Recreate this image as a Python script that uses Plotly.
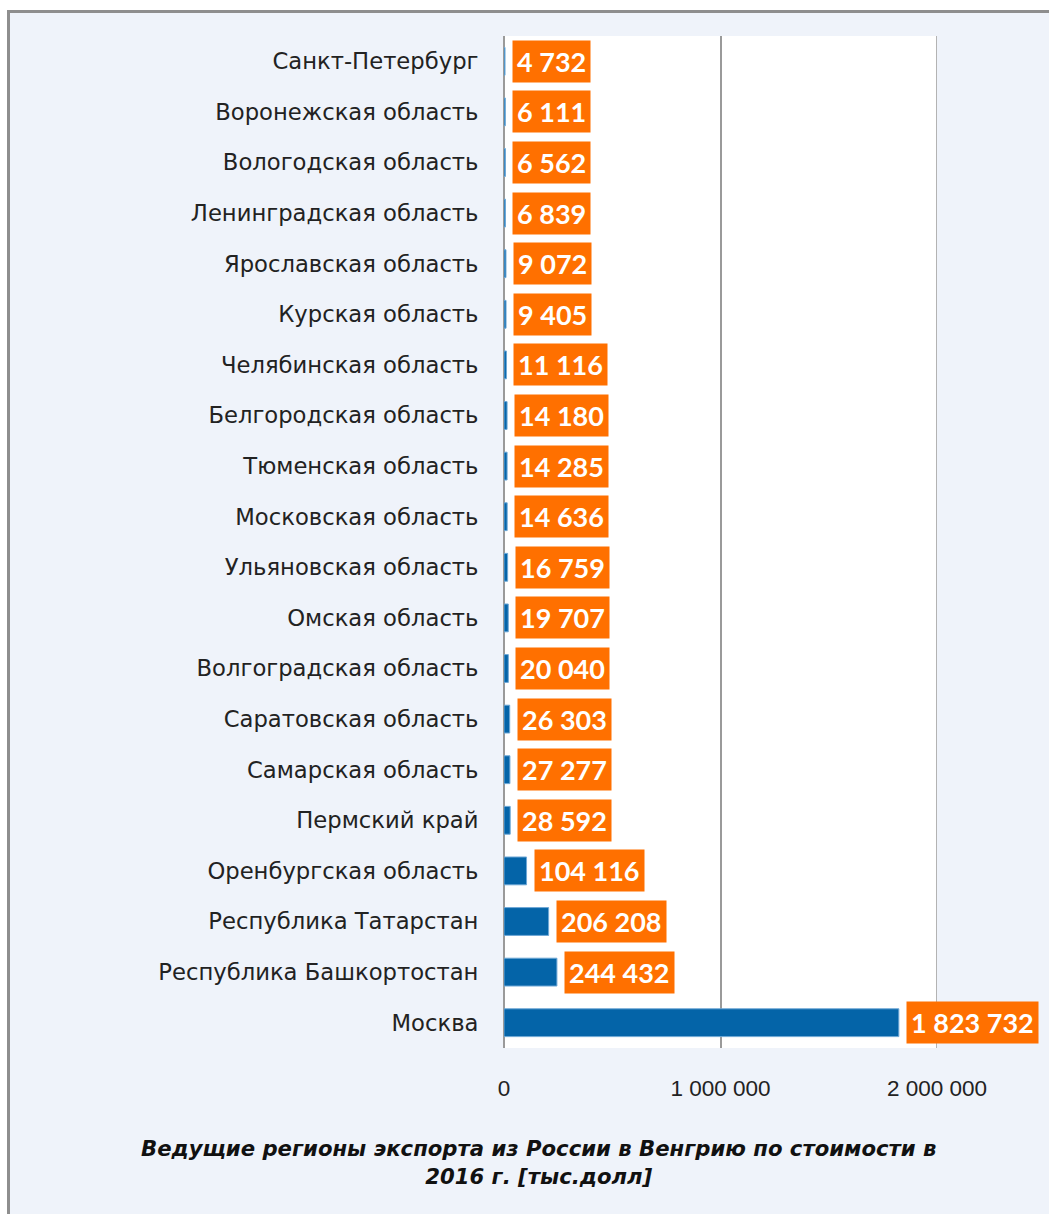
import plotly.graph_objects as go

regions = [
    "Санкт-Петербург", "Воронежская область", "Вологодская область",
    "Ленинградская область", "Ярославская область", "Курская область",
    "Челябинская область", "Белгородская область", "Тюменская область",
    "Московская область", "Ульяновская область", "Омская область",
    "Волгоградская область", "Саратовская область", "Самарская область",
    "Пермский край", "Оренбургская область", "Республика Татарстан",
    "Республика Башкортостан", "Москва",
]
values = [4732, 6111, 6562, 6839, 9072, 9405, 11116, 14180, 14285, 14636,
          16759, 19707, 20040, 26303, 27277, 28592, 104116, 206208, 244432,
          1823732]
tick_vals = [0, 1000000, 2000000]
title_text = "Ведущие регионы экспорта из России в Венгрию по стоимости в<br>2016 г. [тыс.долл]"

W, H = 1049, 1214
ML, MR, MT, MB = 504, 112, 36, 166
PW, PH = W - ML - MR, H - MT - MB

def px_x(p):
    return (p - ML) / PW

def px_y(p):
    return 1 - (p - MT) / PH

def fmt(v):
    return f"{v:,}".replace(",", " ")

BLUE = "#0464A8"
ORANGE = "#FF7000"
BG = "#EFF3FA"
GRID = "#9A9A9A"

fig = go.Figure()
fig.add_trace(go.Bar(
    y=regions, x=values, orientation="h",
    marker=dict(color=BLUE, line=dict(color="#6FA8D6", width=1)),
    hoverinfo="x+y",
))

# gridline at the right edge of the axis range
fig.add_shape(type="line", xref="x", yref="paper",
              x0=tick_vals[-1], x1=tick_vals[-1], y0=0, y1=1,
              line=dict(color=GRID, width=1.5), layer="below")

for r, v in zip(regions, values):
    fig.add_annotation(
        x=v, y=r, xref="x", yref="y", text="<b>" + fmt(v) + "</b>",
        showarrow=False, xanchor="left", xshift=7,
        bgcolor=ORANGE, borderpad=4,
        font=dict(family="Lato, Open Sans, sans-serif", size=27, color="white"),
    )

fig.add_annotation(
    x=px_x(538), y=px_y(1162), xref="paper", yref="paper",
    text="<b><i>" + title_text + "</i></b>", showarrow=False,
    xanchor="center", yanchor="middle", align="center",
    font=dict(family="DejaVu Sans, sans-serif", size=21.2, color="#111111"),
)

# outer frame: white margins at top/left and gray border
fig.add_shape(type="rect", xref="paper", yref="paper",
              x0=px_x(-5), x1=px_x(W + 5), y0=px_y(10), y1=px_y(-5),
              fillcolor="white", line=dict(width=0), layer="below")
fig.add_shape(type="rect", xref="paper", yref="paper",
              x0=px_x(-5), x1=px_x(7), y0=px_y(H + 5), y1=px_y(-5),
              fillcolor="white", line=dict(width=0), layer="below")
fig.add_shape(type="line", xref="paper", yref="paper",
              x0=px_x(8.5), x1=px_x(W + 5), y0=px_y(11.5), y1=px_y(11.5),
              line=dict(color="#8E8E8E", width=3))
fig.add_shape(type="line", xref="paper", yref="paper",
              x0=px_x(8.5), x1=px_x(8.5), y0=px_y(10), y1=px_y(H + 5),
              line=dict(color="#8E8E8E", width=3))

fig.update_layout(
    width=W, height=H,
    margin=dict(l=ML, r=MR, t=MT, b=MB, pad=0),
    paper_bgcolor=BG, plot_bgcolor="white",
    bargap=0.45, showlegend=False,
    separators=", ",
    font=dict(family="DejaVu Sans, sans-serif", color="#222222"),
)
fig.update_xaxes(
    range=[0, 2000000], tickvals=tick_vals, tickformat=",d",
    showgrid=True, gridcolor=GRID, gridwidth=1.5,
    zeroline=True, zerolinecolor=GRID, zerolinewidth=1.5,
    ticks="outside", ticklen=20, tickcolor="rgba(0,0,0,0)",
    tickfont=dict(family="Liberation Sans, Arial, sans-serif", size=22.5, color="#222222"),
    showline=False, fixedrange=True,
)
fig.update_yaxes(
    categoryorder="array", categoryarray=regions[::-1],
    ticks="outside", ticklen=20, tickcolor="rgba(0,0,0,0)",
    tickfont=dict(family="DejaVu Sans, sans-serif", size=22.7, color="#222222"),
    showgrid=False, showline=False, fixedrange=True,
)

fig.write_html("out.html", config={"displayModeBar": False},
               post_script="document.body.style.margin='0';")
